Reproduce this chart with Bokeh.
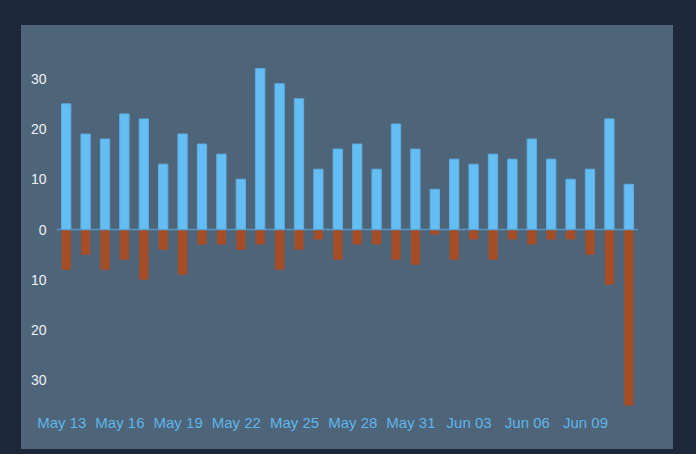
from bokeh.plotting import figure
from bokeh.embed import file_html
from bokeh.resources import INLINE
from bokeh.models import ColumnDataSource, FixedTicker, Span, Range1d, Spacer
from bokeh.layouts import column, row

# ---- data ----
days = ["May 13", "May 14", "May 15", "May 16", "May 17", "May 18", "May 19", "May 20",
        "May 21", "May 22", "May 23", "May 24", "May 25", "May 26", "May 27", "May 28",
        "May 29", "May 30", "May 31", "Jun 01", "Jun 02", "Jun 03", "Jun 04", "Jun 05",
        "Jun 06", "Jun 07", "Jun 08", "Jun 09", "Jun 10", "Jun 11"]
positive = [25, 19, 18, 23, 22, 13, 19, 17, 15, 10, 32, 29, 26, 12, 16, 17, 12, 21,
            16, 8, 14, 13, 15, 14, 18, 14, 10, 12, 22, 9]
negative = [8, 5, 8, 6, 10, 4, 9, 3, 3, 4, 3, 8, 4, 2, 6, 3, 3, 6, 7, 1, 6, 2, 6, 2,
            3, 2, 2, 5, 11, 35]
tick_labels = ["May 13", "May 16", "May 19", "May 22", "May 25", "May 28", "May 31",
               "Jun 03", "Jun 06", "Jun 09"]
y_ticks = [-30, -20, -10, 0, 10, 20, 30]

PANEL = "#4e6479"
PAGE = "#1c2839"

idx = list(range(len(days)))
src = ColumnDataSource(dict(x=idx, pos=positive, neg=[-v for v in negative], day=days))

p = figure(width=652, height=424, output_backend="svg", toolbar_location=None,
           x_range=Range1d(-0.5, 29.5), y_range=Range1d(-35.6, 38),
           background_fill_color=PANEL, border_fill_color=PANEL,
           min_border_left=35, min_border_right=35, min_border_top=13, min_border_bottom=41)
p.outline_line_color = None
p.styles = {"background-color": PANEL}
p.xgrid.visible = False
p.ygrid.visible = False

p.vbar(x="x", top="neg", bottom=0, width=0.48, source=src,
       fill_color="#a44d26", line_color=None)
p.vbar(x="x", top="pos", bottom=0, width=0.48, source=src,
       fill_color="#64bef3", line_color="#5cafe2", line_width=1)

p.add_layout(Span(location=0, dimension="width", line_color="#5aa3d6",
                  line_width=1.5, line_alpha=0.8))

# x axis: labels every third day
tick_pos = [days.index(t) - 0.23 for t in tick_labels]
p.xaxis.ticker = FixedTicker(ticks=tick_pos)
p.xaxis.major_label_overrides = {tp: t for tp, t in zip(tick_pos, tick_labels)}
p.xaxis.axis_line_color = None
p.xaxis.major_tick_line_color = None
p.xaxis.minor_tick_line_color = None
p.xaxis.major_label_standoff = -1
p.xaxis.major_label_text_color = "#5fb6ea"
p.xaxis.major_label_text_font = "Liberation Sans"
p.xaxis.major_label_text_font_size = "15px"

p.yaxis.ticker = FixedTicker(ticks=y_ticks)
p.yaxis.major_label_overrides = {t: str(abs(t)) for t in y_ticks}
p.yaxis.axis_line_color = None
p.yaxis.major_tick_line_color = None
p.yaxis.minor_tick_line_color = None
p.yaxis.major_label_standoff = 4
p.yaxis.major_label_text_color = "#eef2f6"
p.yaxis.major_label_text_font = "Liberation Sans"
p.yaxis.major_label_text_font_size = "14px"

layout = column(Spacer(height=25), row(Spacer(width=21), p), spacing=0)

html = file_html(layout, INLINE)
html = html.replace("<head>", "<head><style>html,body{background:%s;}</style>" % PAGE, 1)
open("out.html", "w").write(html)
